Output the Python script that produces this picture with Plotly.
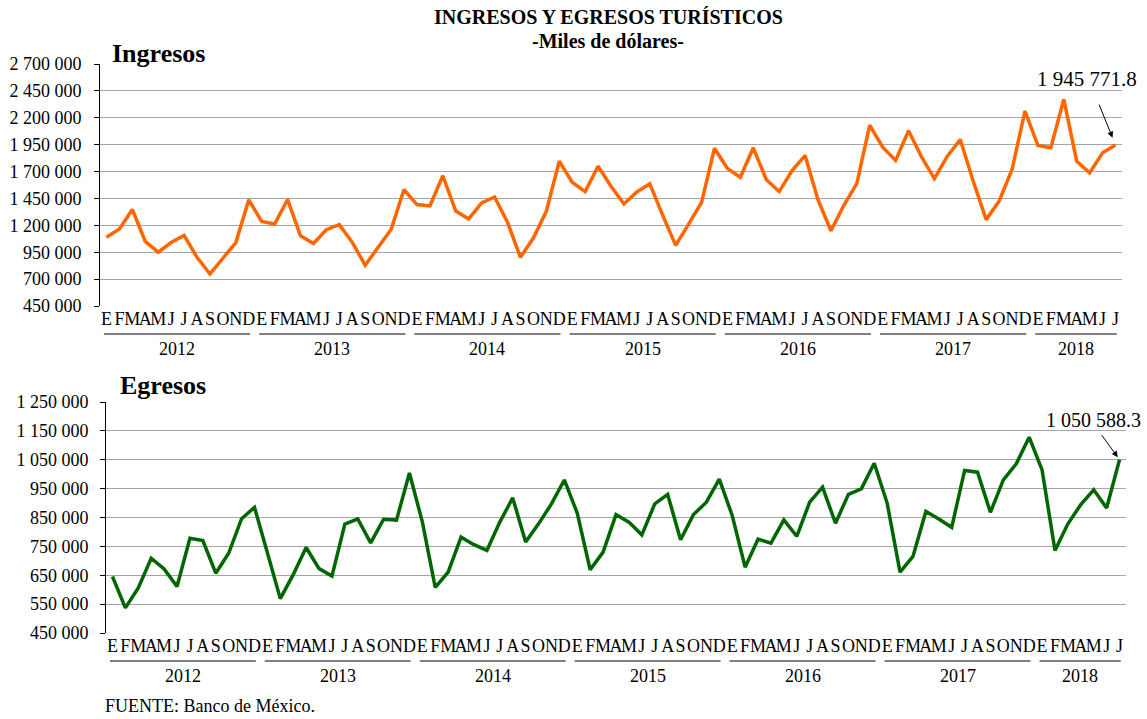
import plotly.graph_objects as go

# ---------------- data ----------------
month_letters = ["E", "F", "M", "A", "M", "J", "J", "A", "S", "O", "N", "D"]
years = ["2012", "2013", "2014", "2015", "2016", "2017", "2018"]
months_per_year = [12, 12, 12, 12, 12, 12, 7]

ingresos = [
    1090000, 1166000, 1347000, 1050000, 950000, 1040000, 1106000, 903000, 747000, 890000, 1040000, 1437000,
    1237000, 1212000, 1440000, 1103000, 1031000, 1159000, 1206000, 1042000, 829000, 997000, 1162000, 1533000,
    1393000, 1380000, 1661000, 1333000, 1260000, 1408000, 1464000, 1228000, 902000, 1082000, 1330000, 1796000,
    1601000, 1514000, 1750000, 1563000, 1399000, 1511000, 1585000, 1293000, 1014000, 1212000, 1414000, 1917000,
    1728000, 1647000, 1921000, 1626000, 1514000, 1709000, 1849000, 1439000, 1150000, 1386000, 1588000, 2132000,
    1927000, 1803000, 2079000, 1837000, 1635000, 1843000, 1998000, 1610000, 1253000, 1424000, 1719000, 2262000,
    1942000, 1921000, 2371000, 1796000, 1688000, 1874000, 1945771.8,
]
egresos = [
    645600, 537000, 606000, 709000, 672000, 611000, 778000, 770000, 657000, 726000, 846000, 885000,
    728000, 569000, 652000, 746000, 673000, 647000, 827000, 845000, 762000, 844000, 841000, 1004000,
    835000, 608000, 661000, 782000, 756000, 736000, 834000, 918000, 765000, 828000, 897000, 980000,
    865000, 669000, 730000, 860000, 834000, 790000, 897000, 930000, 773000, 860000, 903000, 983000,
    857000, 678000, 775000, 761000, 842000, 785000, 903000, 955000, 830000, 930000, 949000, 1038000,
    900000, 661000, 715000, 871000, 845000, 816000, 1013000, 1007000, 868000, 980000, 1036000, 1128000,
    1015000, 736000, 828000, 895000, 946000, 883000, 1050588.3,
]
ing_ticks = [450000, 700000, 950000, 1200000, 1450000, 1700000, 1950000, 2200000, 2450000, 2700000]
egr_ticks = [450000, 550000, 650000, 750000, 850000, 950000, 1050000, 1150000, 1250000]

# ---------------- helpers ----------------
n = len(ingresos)
xs = list(range(n))
letters = [month_letters[i % 12] for i in xs]


def fmt_int(v):
    return f"{v:,.0f}".replace(",", " ")


def fmt_dec(v):
    return f"{v:,.1f}".replace(",", " ")


SERIF = "Liberation Serif, Times New Roman, serif"
W, H = 1147, 719

fig = go.Figure()
fig.add_trace(go.Scatter(x=xs, y=ingresos, mode="lines",
                         line=dict(color="#FF6600", width=3.5),
                         xaxis="x", yaxis="y", showlegend=False))
fig.add_trace(go.Scatter(x=xs, y=egresos, mode="lines",
                         line=dict(color="#006600", width=3.5),
                         xaxis="x2", yaxis="y2", showlegend=False))

common_x = dict(range=[-0.5, n - 0.5], tickmode="array", tickvals=xs, ticktext=letters,
                showgrid=False, zeroline=False, showline=False, ticks="", automargin=False,
                tickfont=dict(family=SERIF, size=18, color="black"), tickangle=0)
common_y = dict(showgrid=True, gridcolor="#A6A6A6", gridwidth=1, zeroline=False,
                showline=True, linecolor="black", linewidth=1, ticks="outside",
                ticklen=5, tickcolor="black", tickmode="array", automargin=False,
                tickfont=dict(family=SERIF, size=18, color="black"))

fig.update_layout(
    width=W, height=H, margin=dict(l=0, r=0, t=0, b=0, autoexpand=False),
    paper_bgcolor="white", plot_bgcolor="white",
    xaxis=dict(domain=[100 / W, 1122 / W], anchor="y", **common_x),
    yaxis=dict(domain=[1 - 306 / H, 1 - 64 / H], anchor="x", range=[450000, 2700000],
               tickvals=ing_ticks, ticktext=[fmt_int(v) for v in ing_ticks],
               ticklabelstandoff=9, **common_y),
    xaxis2=dict(domain=[106 / W, 1126 / W], anchor="y2", **common_x),
    yaxis2=dict(domain=[1 - 633 / H, 1 - 402 / H], anchor="x2", range=[450000, 1250000],
                tickvals=egr_ticks, ticktext=[fmt_int(v) for v in egr_ticks],
                ticklabelstandoff=8, **common_y),
)

ann = []
shapes = []
# titles
ann.append(dict(text="<b>INGRESOS Y EGRESOS TURÍSTICOS</b>", xref="paper", yref="paper",
                x=608 / W, y=1 - 17 / H, xanchor="center", yanchor="middle", showarrow=False,
                font=dict(family=SERIF, size=20, color="black")))
ann.append(dict(text="<b>-Miles de dólares-</b>", xref="paper", yref="paper",
                x=608 / W, y=1 - 41 / H, xanchor="center", yanchor="middle", showarrow=False,
                font=dict(family=SERIF, size=20, color="black")))
ann.append(dict(text="<b>Ingresos</b>", xref="paper", yref="paper",
                x=110 / W, y=1 - 54 / H, xanchor="left", yanchor="middle", showarrow=False,
                font=dict(family=SERIF, size=26, color="black")))
ann.append(dict(text="<b>Egresos</b>", xref="paper", yref="paper",
                x=118 / W, y=1 - 385 / H, xanchor="left", yanchor="middle", showarrow=False,
                font=dict(family=SERIF, size=26, color="black")))
ann.append(dict(text="FUENTE: Banco de México.", xref="paper", yref="paper",
                x=103 / W, y=1 - 706 / H, xanchor="left", yanchor="middle", showarrow=False,
                font=dict(family=SERIF, size=18, color="black")))

# year groups
start = 0
for yr, cnt in zip(years, months_per_year):
    a = start - 0.5 + 0.3
    b = start + cnt - 0.5 - 0.4
    for xr, yl, yt in (("x", 1 - 334 / H, 1 - 349 / H), ("x2", 1 - 661 / H, 1 - 676 / H)):
        shapes.append(dict(type="line", xref=xr, yref="paper", x0=a, x1=b, y0=yl, y1=yl,
                           line=dict(color="black", width=1)))
        ann.append(dict(text=yr, xref=xr, yref="paper", x=(a + b) / 2, y=yt,
                        xanchor="center", yanchor="middle", showarrow=False,
                        font=dict(family=SERIF, size=18, color="black")))
    start += cnt

# last value callouts
last = n - 1
ann.append(dict(text=fmt_dec(ingresos[last]), xref="x", yref="y", x=last, y=ingresos[last],
                xanchor="center", yanchor="middle", xshift=-29, yshift=66, showarrow=False,
                font=dict(family=SERIF, size=21, color="black")))
ann.append(dict(text="", xref="x", yref="y", x=last, y=ingresos[last], showarrow=True,
                ax=-17, ay=-42, arrowhead=2, arrowsize=1.2, arrowwidth=1, arrowcolor="black",
                standoff=8))
ann.append(dict(text=fmt_dec(egresos[last]), xref="x2", yref="y2", x=last, y=egresos[last],
                xanchor="center", yanchor="middle", xshift=-26, yshift=40, showarrow=False,
                font=dict(family=SERIF, size=20, color="black")))
ann.append(dict(text="", xref="x2", yref="y2", x=last, y=egresos[last], showarrow=True,
                ax=-19, ay=-26, arrowhead=2, arrowsize=1.2, arrowwidth=1, arrowcolor="black",
                standoff=3))

fig.update_layout(annotations=ann, shapes=shapes)
fig.write_html("out.html", config={"displayModeBar": False},
               post_script="document.body.style.margin='0';document.body.style.overflow='hidden';")
